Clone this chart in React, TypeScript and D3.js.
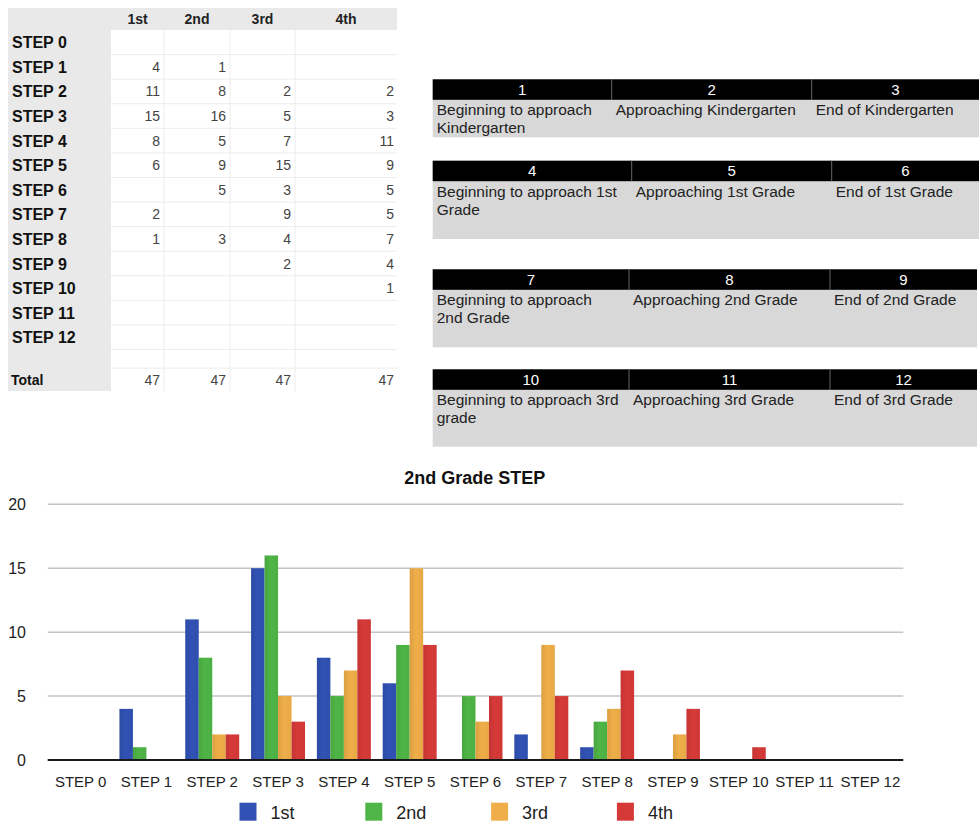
import React from 'react';
import * as d3 from 'd3';

const steps = ['STEP 0', 'STEP 1', 'STEP 2', 'STEP 3', 'STEP 4', 'STEP 5', 'STEP 6', 'STEP 7', 'STEP 8', 'STEP 9', 'STEP 10', 'STEP 11', 'STEP 12'];
const seriesNames = ['1st', '2nd', '3rd', '4th'];
const first = [null, 4, 11, 15, 8, 6, null, 2, 1, null, null, null, null];
const second = [null, 1, 8, 16, 5, 9, 5, null, 3, null, null, null, null];
const third = [null, null, 2, 5, 7, 15, 3, 9, 4, 2, null, null, null];
const fourth = [null, null, 2, 3, 11, 9, 5, 5, 7, 4, 1, null, null];
const seriesColors = ['#3152b4', '#4fb546', '#efae48', '#d63a38'];
const yTicks = [0, 5, 10, 15, 20];
const chartTitle = '2nd Grade STEP';

const stepNumbers = [[1, 2, 3], [4, 5, 6], [7, 8, 9], [10, 11, 12]];
const stepDescriptions = [
  [['Beginning to approach', 'Kindergarten'], ['Approaching Kindergarten'], ['End of Kindergarten']],
  [['Beginning to approach 1st', 'Grade'], ['Approaching 1st Grade'], ['End of 1st Grade']],
  [['Beginning to approach', '2nd Grade'], ['Approaching 2nd Grade'], ['End of 2nd Grade']],
  [['Beginning to approach 3rd', 'grade'], ['Approaching 3rd Grade'], ['End of 3rd Grade']],
];

const series = [first, second, third, fourth];
const FONT = '"Liberation Sans", Arial, Helvetica, sans-serif';

function DataTable() {
  const colEdges = [8, 111, 164, 230, 295, 397];
  const headerTop = 8;
  const headerBottom = 30;
  const rowH = 24.58;
  const rowsBottom = headerBottom + rowH * (steps.length + 1) - 6;
  const totalTop = rowsBottom;
  const totalBottom = 391;
  const totals = series.map((s) => d3.sum(s, (v) => (v == null ? 0 : v)));
  const lines: number[] = [];
  for (let k = 1; k <= steps.length; k++) lines.push(headerBottom + rowH * k);
  lines.push(rowsBottom);
  return (
    <g fontFamily={FONT}>
      <rect x={colEdges[0]} y={headerTop} width={colEdges[5] - colEdges[0]} height={totalBottom - headerTop} fill="#ffffff" />
      <rect x={colEdges[0]} y={headerTop} width={colEdges[5] - colEdges[0]} height={headerBottom - headerTop} fill="#e9e9e9" />
      <rect x={colEdges[0]} y={headerTop} width={colEdges[1] - colEdges[0]} height={totalBottom - headerTop} fill="#e9e9e9" />
      {lines.map((y, i) => (
        <line key={'h' + i} x1={colEdges[1]} x2={colEdges[5]} y1={y} y2={y} stroke="#ececec" strokeWidth={1} />
      ))}
      {colEdges.slice(2, 5).map((x, i) => (
        <line key={'v' + i} x1={x} x2={x} y1={headerBottom} y2={totalBottom} stroke="#ececec" strokeWidth={1} />
      ))}
      {seriesNames.map((n, i) => (
        <text key={n} x={(colEdges[i + 1] + colEdges[i + 2]) / 2} y={24} textAnchor="middle" fontSize={14} fontWeight="bold" fill="#222">
          {n}
        </text>
      ))}
      {steps.map((s, r) => {
        const cy = headerBottom + rowH * r + rowH / 2;
        return (
          <g key={s}>
            <text x={12} y={cy + 6} fontSize={16} fontWeight="bold" fill="#111">{s}</text>
            {series.map((ser, c) =>
              ser[r] == null ? null : (
                <text key={c} x={colEdges[c + 2] - (c === 3 ? 3 : 4)} y={cy + 5} textAnchor="end" fontSize={14} fill="#444">
                  {ser[r]}
                </text>
              )
            )}
          </g>
        );
      })}
      <text x={11} y={385} fontSize={14} fontWeight="bold" fill="#111">Total</text>
      {totals.map((t, c) => (
        <text key={c} x={colEdges[c + 2] - (c === 3 ? 3 : 4)} y={385} textAnchor="end" fontSize={14} fill="#444">
          {t}
        </text>
      ))}
    </g>
  );
}

function StepBlocks() {
  const tops = [79.3, 160.7, 269.3, 369.3];
  const bottoms = [137.3, 239, 347.3, 446.7];
  const edges = [
    [432.7, 611.7, 811.7, 979],
    [432.7, 631.7, 831.7, 979],
    [432.7, 629, 830, 977],
    [432.7, 629, 830, 977],
  ];
  const headH = 20.5;
  return (
    <g fontFamily={FONT}>
      {stepNumbers.map((nums, b) => {
        const top = tops[b];
        const e = edges[b];
        return (
          <g key={b}>
            <rect x={e[0]} y={top} width={e[3] - e[0]} height={bottoms[b] - top} fill="#d8d8d8" />
            <rect x={e[0]} y={top} width={e[3] - e[0]} height={headH} fill="#000" />
            {[1, 2].map((k) => (
              <line key={k} x1={e[k]} x2={e[k]} y1={top} y2={top + headH} stroke="#666" strokeWidth={1} />
            ))}
            {nums.map((n, c) => (
              <text key={n} x={(e[c] + e[c + 1]) / 2} y={top + 15.5} textAnchor="middle" fontSize={15} fill="#fff">
                {n}
              </text>
            ))}
            {stepDescriptions[b].map((ls, c) => (
              <text key={c} fontSize={15.5} fill="#222">
                {ls.map((l, li) => (
                  <tspan key={li} x={e[c] + 4} y={top + headH + 15.5 + li * 18}>
                    {l}
                  </tspan>
                ))}
              </text>
            ))}
          </g>
        );
      })}
    </g>
  );
}

function BarChart() {
  const left = 47.7;
  const right = 903.3;
  const y0 = 760;
  const yTop = 504.3;
  const x = d3.scaleBand<string>().domain(steps).range([left, right]).paddingInner(0.18).paddingOuter(0.09);
  const xOuter = d3.scaleBand<string>().domain(steps).range([left, right]).padding(0);
  const xs = d3.scaleBand<string>().domain(seriesNames).range([0, x.bandwidth()]).padding(0);
  const y = d3.scaleLinear().domain([0, 20]).range([y0, yTop]);
  const legendStart = 239.5;
  const legendStep = 125.8;
  return (
    <g fontFamily={FONT}>
      <defs>
        {seriesColors.map((c, i) => {
          const base = d3.color(c)!;
          return (
            <linearGradient key={i} id={'bg' + i} x1="0" x2="1" y1="0" y2="0">
              <stop offset="0" stopColor={base.darker(0.25).formatHex()} />
              <stop offset="0.45" stopColor={c} />
              <stop offset="1" stopColor={base.darker(0.1).formatHex()} />
            </linearGradient>
          );
        })}
      </defs>
      <text x={474.7} y={483.5} textAnchor="middle" fontSize={18} fontWeight="bold" fill="#111">
        {chartTitle}
      </text>
      {yTicks.map((t) => (
        <g key={t}>
          {t !== 0 && <line x1={left} x2={right} y1={y(t)} y2={y(t)} stroke="#c4c4c4" strokeWidth={1.5} />}
          <text x={26} y={y(t) + 6} textAnchor="end" fontSize={16} fill="#222">
            {t}
          </text>
        </g>
      ))}
      {steps.map((s, i) => (
        <g key={s}>
          {series.map((ser, k) => {
            const v = ser[i] == null ? 0 : (ser[i] as number);
            if (v === 0) return null;
            return (
              <rect
                key={k}
                x={(x(s) as number) + (xs(seriesNames[k]) as number)}
                y={y(v)}
                width={xs.bandwidth()}
                height={y0 - y(v)}
                fill={'url(#bg' + k + ')'}
              />
            );
          })}
          <text x={(xOuter(s) as number) + xOuter.bandwidth() / 2} y={787} textAnchor="middle" fontSize={15} fill="#222">
            {s}
          </text>
        </g>
      ))}
      <line x1={left} x2={right} y1={y0} y2={y0} stroke="#1a1a1a" strokeWidth={2} />
      {seriesNames.map((n, i) => (
        <g key={n}>
          <rect x={legendStart + i * legendStep} y={802.7} width={17} height={18} fill={seriesColors[i]} />
          <text x={legendStart + i * legendStep + 31} y={818.5} fontSize={18} fill="#222">
            {n}
          </text>
        </g>
      ))}
    </g>
  );
}

export default function App() {
  return (
    <svg width={980} height={824} style={{ position: 'absolute', left: 0, top: 0, background: '#fff' }}>
      <rect x={0} y={0} width={980} height={824} fill="#fff" />
      <DataTable />
      <StepBlocks />
      <BarChart />
    </svg>
  );
}
